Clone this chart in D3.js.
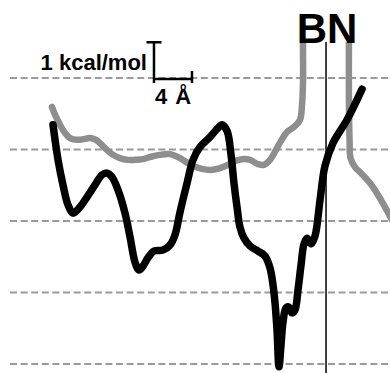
<!DOCTYPE html>
<html>
<head>
<meta charset="utf-8">
<script src="https://cdn.jsdelivr.net/npm/d3@7/dist/d3.min.js"></script>
<style>
  html, body { margin: 0; padding: 0; background: #fff; }
  svg { display: block; }
</style>
</head>
<body>
<svg id="chart" width="390" height="373"></svg>
<script>
// Reaction coordinate (Å) and free energy (kcal/mol) along the pathway.
const darkProfile = [
  [0.00, 2.69], [0.53, 1.71], [1.05, 1.01], [1.58, 0.45], [2.11, 0.22],
  [2.84, 0.39], [3.58, 0.67], [4.42, 1.01], [5.16, 1.29], [5.68, 1.34],
  [6.21, 1.23], [6.84, 0.87], [7.58, 0.22], [8.11, -0.45], [8.63, -1.15],
  [9.05, -1.37], [9.47, -1.26], [10.00, -1.03], [10.63, -0.84], [11.58, -0.81],
  [12.32, -0.67], [12.84, -0.39], [13.37, 0.25], [14.11, 1.06], [14.74, 1.71],
  [15.47, 2.07], [16.53, 2.35], [17.37, 2.60], [17.79, 2.69], [18.32, 2.52],
  [18.74, 1.85], [19.05, 1.06], [19.37, 0.39], [19.68, -0.17], [20.11, -0.48],
  [20.74, -0.70], [21.58, -0.84], [22.32, -0.98], [22.84, -1.31], [23.16, -1.79],
  [23.37, -2.29], [23.58, -3.05], [23.79, -4.08], [24.00, -3.47], [24.21, -2.83],
  [24.53, -2.43], [24.84, -2.41], [25.16, -2.57], [25.47, -2.49], [25.79, -1.93],
  [26.11, -1.23], [26.42, -0.64], [26.74, -0.48], [27.16, -0.64], [27.58, -0.42],
  [28.11, 0.59], [28.63, 1.54], [29.47, 2.18], [30.95, 2.83], [32.53, 3.69]
];

const greyProfile = [
  [-0.11, 3.19], [0.32, 2.91], [0.74, 2.69], [1.26, 2.46], [1.79, 2.32],
  [2.53, 2.27], [3.26, 2.29], [3.89, 2.32], [4.53, 2.27], [5.05, 2.15],
  [5.58, 2.01], [6.21, 1.87], [7.05, 1.76], [7.89, 1.71], [8.63, 1.71],
  [9.47, 1.73], [10.21, 1.79], [11.26, 1.85], [12.32, 1.87], [13.37, 1.76],
  [14.74, 1.54], [16.53, 1.43], [17.58, 1.48], [18.42, 1.57], [19.16, 1.68],
  [19.89, 1.73], [20.74, 1.71], [21.58, 1.59], [22.21, 1.57], [22.84, 1.71],
  [23.47, 1.99], [24.00, 2.24], [24.63, 2.49], [25.37, 2.63], [26.00, 2.83],
  [26.21, 3.24], [26.32, 3.94], [26.32, 4.98], [26.42, 5.90], [31.15, 5.90],
  [31.15, 4.98], [31.15, 3.38], [31.22, 2.27], [31.32, 1.76], [31.79, 1.51],
  [32.53, 1.31], [33.37, 1.06], [34.21, 0.73], [34.95, 0.39], [35.68, 0.03]
];

const gridEnergies = [-4, -2, 0, 2, 4];
const barrierPosition = 28.74;     // position of the BN marker
const barrierLabel = "BN";
const scaleBarOrigin = [10.63, 4]; // Å, kcal/mol
const scaleBarEnergy = 1;          // kcal/mol
const scaleBarDistance = 4;        // Å
const energyBarLabel = "1 kcal/mol";
const distanceBarLabel = "4 Å";

const W = 390, H = 373;
const svg = d3.select("#chart");

const x = d3.scaleLinear().domain([0, 36]).range([53, 395]);
const y = d3.scaleLinear().domain([-4, 4]).range([364, 78]);

// dashed horizontal guides
svg.append("g")
  .selectAll("line")
  .data(gridEnergies)
  .join("line")
  .attr("x1", 10).attr("x2", W)
  .attr("y1", d => y(d)).attr("y2", d => y(d))
  .attr("stroke", "#9a9a9a")
  .attr("stroke-width", 2)
  .attr("stroke-dasharray", "7,3.6");

// plot clipping: curves disappear under the label band
svg.append("clipPath").attr("id", "plotClip")
  .append("rect").attr("x", 0).attr("y", 42).attr("width", W).attr("height", H - 42);

const line = d3.line()
  .x(d => x(d[0]))
  .y(d => y(d[1]))
  .curve(d3.curveCatmullRom.alpha(0.5));

const curves = svg.append("g").attr("clip-path", "url(#plotClip)");

curves.append("path")
  .datum(greyProfile)
  .attr("d", line)
  .attr("fill", "none")
  .attr("stroke", "#8e8e8e")
  .attr("stroke-width", 6.5)
  .attr("stroke-linecap", "round")
  .attr("stroke-linejoin", "round");

curves.append("path")
  .datum(darkProfile)
  .attr("d", line)
  .attr("fill", "none")
  .attr("stroke", "#000")
  .attr("stroke-width", 7.5)
  .attr("stroke-linecap", "round")
  .attr("stroke-linejoin", "round");

// BN marker
svg.append("line")
  .attr("x1", x(barrierPosition)).attr("x2", x(barrierPosition))
  .attr("y1", 42).attr("y2", H)
  .attr("stroke", "#000").attr("stroke-width", 1.5);

svg.append("text")
  .attr("x", x(barrierPosition) + 1)
  .attr("y", 43)
  .attr("text-anchor", "middle")
  .attr("font-family", "'Liberation Sans', Arial, sans-serif")
  .attr("font-weight", "bold")
  .attr("font-size", 42)
  .attr("fill", "#000")
  .text(barrierLabel);

// scale bar
const sx0 = x(scaleBarOrigin[0]);
const sy0 = y(scaleBarOrigin[1]);
const sy1 = y(scaleBarOrigin[1] + scaleBarEnergy);
const sx1 = x(scaleBarOrigin[0] + scaleBarDistance);
const bar = svg.append("g")
  .attr("stroke", "#000").attr("stroke-width", 2.5).attr("fill", "none");
bar.append("line").attr("x1", sx0).attr("x2", sx0).attr("y1", sy1).attr("y2", sy0 + 5);
bar.append("line").attr("x1", sx0 - 7.5).attr("x2", sx0 + 7.5).attr("y1", sy1).attr("y2", sy1);
bar.append("line").attr("x1", sx0).attr("x2", sx1).attr("y1", sy0 + 1).attr("y2", sy0 + 1);
bar.append("line").attr("x1", sx1).attr("x2", sx1).attr("y1", sy0 - 7).attr("y2", sy0 + 5);

svg.append("text")
  .attr("x", sx0 - 7)
  .attr("y", 70)
  .attr("text-anchor", "end")
  .attr("font-family", "'Liberation Sans', Arial, sans-serif")
  .attr("font-weight", "bold")
  .attr("font-size", 22)
  .attr("fill", "#000")
  .text(energyBarLabel);

svg.append("text")
  .attr("x", sx0 + 1)
  .attr("y", 104)
  .attr("font-family", "'Liberation Sans', Arial, sans-serif")
  .attr("font-weight", "bold")
  .attr("font-size", 22)
  .attr("letter-spacing", 1)
  .attr("fill", "#000")
  .text(distanceBarLabel);
</script>
</body>
</html>
